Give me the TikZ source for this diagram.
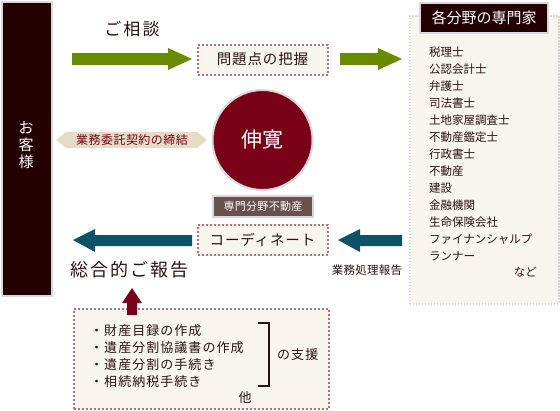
\documentclass[tikz,border=0pt]{standalone}
\usepackage{fontspec}
\setmainfont{Noto Sans CJK JP}
\usetikzlibrary{shapes.geometric}
\definecolor{darkbar}{HTML}{230002}
\definecolor{txt}{HTML}{2B1212}
\definecolor{olive}{HTML}{6A8A00}
\definecolor{teal}{HTML}{0E5268}
\definecolor{crim}{HTML}{7A0018}
\definecolor{dotc}{HTML}{B3707E}
\definecolor{paper}{HTML}{F7F5EE}
\definecolor{beige}{HTML}{E4DDC5}
\definecolor{tagc}{HTML}{6B5050}
\definecolor{greyb}{HTML}{D9D9D9}
\tikzset{
  dotbox/.style={draw=dotc, fill=paper, line width=2pt, dash pattern=on 2pt off 2pt},
  jtxt/.style={text=txt, inner sep=0pt},
  arrowfill/.style={fill=#1, draw=none},
}
\begin{document}
\begin{tikzpicture}[x=1pt,y=-1pt]
\useasboundingbox (0,0) rectangle (560,410);
% left bar
\node[draw=greyb, line width=2pt, fill=darkbar, minimum width=50pt, minimum height=294pt, anchor=north west, inner sep=0pt] (bar) at (1,1) {};
\node[text=white, align=center, inner sep=0pt, font=\fontsize{15}{17}\selectfont] (kyaku) at (26,145) {お\\客\\様};
% right panel
\node[draw=greyb, line width=1.5pt, dash pattern=on 1.5pt off 1.5pt, fill=paper, minimum width=149pt, minimum height=288pt, anchor=north west, inner sep=0pt] (panel) at (409,15) {};
\node[draw=greyb, line width=2pt, fill=darkbar, minimum width=128pt, minimum height=30pt, anchor=north west, inner sep=0pt, text=white, font=\fontsize{15}{17}\selectfont] (head) at (419,2) {各分野の専門家};
\foreach \t [count=\i from 0] in {税理士,公認会計士,弁護士,司法書士,土地家屋調査士,不動産鑑定士,行政書士,不動産,建設,金融機関,生命保険会社,ファイナンシャルプ,ランナー}{
  \node[jtxt, anchor=west, font=\fontsize{11.5}{13}\selectfont] (li\i) at (429,{52+\i*17}) {\t};
}
\node[jtxt, anchor=east, font=\fontsize{11.5}{13}\selectfont] (nado) at (537,272) {など};
% top row
\node[jtxt, font=\fontsize{17}{19}\selectfont\addfontfeature{LetterSpace=12}] (sodan) at (132,29) {ご相談};
\node[dotbox, minimum width=130pt, minimum height=30pt, inner sep=0pt, text=txt, font=\fontsize{14.5}{16}\selectfont\addfontfeature{LetterSpace=6}] (mondai) at (262.5,59.5) {問題点の把握};
\path[arrowfill=olive] (72,53) -- (168,53) -- (168,48) -- (192,59) -- (168,70) -- (168,65) -- (72,65) -- cycle;
\path[arrowfill=olive] (340,53) -- (378,53) -- (378,48) -- (402,59) -- (378,70) -- (378,65) -- (340,65) -- cycle;
% circle
\node[circle, draw=greyb, line width=2pt, fill=crim, minimum size=100pt, inner sep=0pt, text=white, font=\fontsize{21}{23}\selectfont] (shinkan) at (262.5,140) {伸寛};
\node[draw=greyb, line width=2pt, fill=tagc, minimum width=100pt, minimum height=21pt, inner sep=0pt, text=white, font=\fontsize{11}{12}\selectfont\addfontfeature{LetterSpace=3}] (tag) at (263,206) {専門分野不動産};
% hexagon
\path[fill=beige] (56,140) -- (66,132) -- (197,132) -- (207,140) -- (197,148) -- (66,148) -- cycle;
\node[inner sep=0pt, text=crim, font=\fontsize{12}{13}\selectfont\addfontfeature{LetterSpace=4}] (keiyaku) at (132,140) {業務委託契約の締結};
% coordinate row
\node[dotbox, minimum width=130pt, minimum height=30pt, inner sep=0pt, text=txt, font=\fontsize{14.5}{16}\selectfont\addfontfeature{LetterSpace=6}] (coord) at (262.5,239.5) {コーディネート};
\path[arrowfill=teal] (192,235) -- (95,235) -- (95,229) -- (73,240) -- (95,252) -- (95,246) -- (192,246) -- cycle;
\path[arrowfill=teal] (402,235) -- (360,235) -- (360,229) -- (338,240) -- (360,252) -- (360,246) -- (402,246) -- cycle;
\node[jtxt, anchor=west, font=\fontsize{18}{20}\selectfont\addfontfeature{LetterSpace=12}] (sogo) at (70,270) {総合的ご報告};
\node[jtxt, font=\fontsize{11.5}{13}\selectfont\addfontfeature{LetterSpace=2}] (gyomu) at (367,270) {業務処理報告};
% bottom box
\node[dotbox, minimum width=255pt, minimum height=100pt, anchor=north west, inner sep=0pt] (support) at (73,308) {};
\path[arrowfill=crim] (127,315) -- (127,303) -- (122,303) -- (132,288) -- (142,303) -- (137,303) -- (137,315) -- cycle;
\foreach \t [count=\i from 0] in {財産目録の作成,遺産分割協議書の作成,遺産分割の手続き,相続納税手続き}{
  \node[jtxt, anchor=west, font=\fontsize{13}{14}\selectfont\addfontfeature{LetterSpace=8}] (it\i) at (90,{331+\i*17}) {・\t};
}
\draw[txt, line width=2pt] (258,323) -- (269,323) -- (269,386) -- (258,386);
\node[jtxt, anchor=west, font=\fontsize{13}{14}\selectfont\addfontfeature{LetterSpace=8}] (shien) at (277,355) {の支援};
\node[jtxt, font=\fontsize{13}{14}\selectfont] (hoka) at (245,398) {他};
\end{tikzpicture}
\end{document}
